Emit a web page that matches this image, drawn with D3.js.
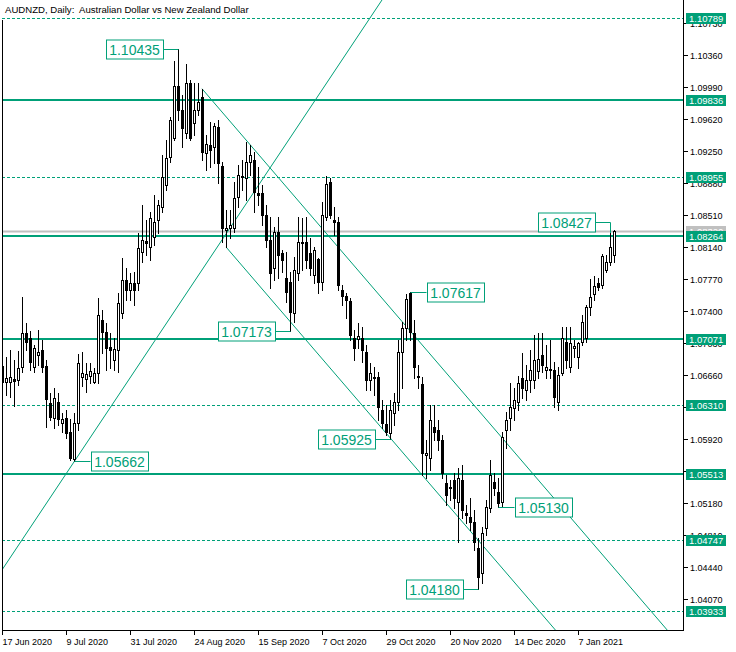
<!DOCTYPE html>
<html><head><meta charset="utf-8">
<script src="https://cdn.jsdelivr.net/npm/d3@7"></script>
<style>body{margin:0;background:#fff}svg{display:block}text{font-family:"Liberation Sans",Arial,sans-serif;white-space:pre}</style>
</head><body><svg id="c" width="736" height="652"></svg>
<script>
const opens=[1.0676,1.0658,1.0658,1.0661,1.0660,1.0675,1.0715,1.0709,1.0675,1.0689,1.0695,1.0676,1.0634,1.0616,1.0635,1.0610,1.0616,1.0600,1.0569,1.0610,
1.0664,1.0661,1.0665,1.0658,1.0668,1.0730,1.0716,1.0698,1.0683,1.0695,1.0738,1.0776,1.0764,1.0772,1.0772,1.0808,1.0821,1.0814,1.0826,1.0845,
1.0860,1.0886,1.0918,1.0940,1.1000,1.0972,1.0946,1.1004,1.0957,1.0972,1.0987,1.0923,1.0932,1.0930,1.0953,1.0908,1.0834,1.0836,1.0836,1.0872,
1.0895,1.0894,1.0912,1.0915,1.0876,1.0876,1.0851,1.0822,1.0790,1.0831,1.0807,1.0778,1.0774,1.0738,1.0784,1.0820,1.0820,1.0807,1.0782,1.0800,
1.0774,1.0849,1.0889,1.0845,1.0843,1.0764,1.0757,1.0751,1.0709,1.0708,1.0709,1.0693,1.0660,1.0664,1.0664,1.0626,1.0609,1.0599,1.0622,1.0635,
1.0693,1.0720,1.0761,1.0715,1.0665,1.0656,1.0574,1.0570,1.0606,1.0602,1.0591,1.0541,1.0535,1.0545,1.0519,1.0545,1.0506,1.0502,1.0496,1.0466,
1.0437,1.0489,1.0512,1.0542,1.0531,1.0519,1.0602,1.0616,1.0628,1.0635,1.0663,1.0649,1.0660,1.0660,1.0671,1.0689,1.0672,1.0672,1.0672,1.0635,
1.0668,1.0704,1.0675,1.0697,1.0687,1.0704,1.0709,1.0745,1.0760,1.0772,1.0770,1.0787,1.0797,1.0805];
const highs=[1.0686,1.0687,1.0695,1.0683,1.0694,1.0756,1.0726,1.0717,1.0701,1.0718,1.0707,1.0683,1.0645,1.0651,1.0645,1.0622,1.0626,1.0615,1.0622,1.0690,
1.0693,1.0680,1.0680,1.0674,1.0755,1.0741,1.0726,1.0715,1.0709,1.0761,1.0801,1.0790,1.0784,1.0785,1.0830,1.0863,1.0845,1.0855,1.0874,1.0868,
1.0920,1.0938,1.0964,1.1029,1.10435,1.0990,1.1026,1.1007,1.1004,1.1004,1.0997,1.0944,1.0959,1.0957,1.0961,1.0912,1.0857,1.0857,1.0889,1.0909,
1.0915,1.0935,1.0932,1.0924,1.0907,1.0886,1.0863,1.0849,1.0837,1.0849,1.0811,1.0808,1.0785,1.0802,1.0849,1.0848,1.0849,1.0824,1.0814,1.0801,
1.0866,1.0896,1.0894,1.0860,1.0849,1.0770,1.0761,1.0755,1.0718,1.0726,1.0722,1.0701,1.0680,1.0675,1.0669,1.0637,1.0631,1.0637,1.0645,1.0707,
1.0727,1.0760,1.07617,1.0730,1.0678,1.0664,1.0591,1.0631,1.0631,1.0614,1.0597,1.0550,1.0545,1.0553,1.0558,1.0562,1.0516,1.0524,1.0510,1.0478,
1.0490,1.0521,1.0568,1.0553,1.0547,1.0600,1.0623,1.0657,1.0651,1.0665,1.0691,1.0678,1.0695,1.0712,1.0715,1.0715,1.0701,1.0707,1.0681,1.0675,
1.0722,1.0722,1.0722,1.0707,1.0704,1.0735,1.0747,1.0777,1.0780,1.0778,1.0806,1.0805,1.0830,1.0834];
const lows=[1.0649,1.0643,1.0641,1.0630,1.0654,1.0669,1.0695,1.0672,1.0669,1.0678,1.0669,1.0606,1.0614,1.0605,1.0608,1.0600,1.0593,1.0568,1.05662,1.0602,
1.0653,1.0646,1.0657,1.0657,1.0657,1.0691,1.0672,1.0674,1.0672,1.0669,1.0732,1.0753,1.0753,1.0747,1.0764,1.0797,1.0805,1.0799,1.0816,1.0830,
1.0855,1.0880,1.0912,1.0938,1.0961,1.0930,1.0940,1.0938,1.0944,1.0967,1.0915,1.0903,1.0907,1.0911,1.0888,1.0820,1.0814,1.0824,1.0831,1.0860,
1.0880,1.0868,1.0897,1.0855,1.0863,1.0839,1.0814,1.0767,1.0776,1.0778,1.0785,1.0750,1.07173,1.0727,1.0776,1.0787,1.0790,1.0782,1.0772,1.0761,
1.0764,1.0845,1.0848,1.0828,1.0764,1.0747,1.0732,1.0707,1.0683,1.0697,1.0681,1.0649,1.0649,1.0643,1.0614,1.0605,1.0597,1.05925,1.0608,1.0626,
1.0651,1.0707,1.0707,1.0663,1.0651,1.0550,1.0547,1.0556,1.0591,1.0579,1.0547,1.0516,1.0521,1.0512,1.0473,1.0501,1.0495,1.0487,1.0464,1.04180,
1.0425,1.0481,1.0508,1.0527,1.0513,1.0514,1.0582,1.0602,1.0614,1.0626,1.0639,1.0637,1.0646,1.0651,1.0663,1.0669,1.0663,1.0663,1.0629,1.0626,
1.0666,1.0674,1.0669,1.0687,1.0674,1.0701,1.0704,1.0735,1.0753,1.0764,1.0767,1.0785,1.0793,1.0797];
const closes=[1.0658,1.0663,1.0664,1.0659,1.0674,1.0715,1.0704,1.0681,1.0697,1.0693,1.0675,1.0638,1.0617,1.0639,1.0615,1.0615,1.0599,1.0570,1.0610,1.0680,
1.0668,1.0667,1.0671,1.0668,1.0735,1.0716,1.0697,1.0695,1.0696,1.0749,1.0776,1.0764,1.0772,1.0764,1.0813,1.0822,1.0819,1.0848,1.0843,1.0863,
1.0895,1.0917,1.0961,1.1000,1.0972,1.0952,1.1004,1.0940,1.0972,1.0982,1.0924,1.0933,1.0926,1.0954,1.0911,1.0836,1.0836,1.0839,1.0871,1.0897,
1.0896,1.0912,1.0920,1.0878,1.0874,1.0851,1.0822,1.0784,1.0831,1.0805,1.0799,1.0762,1.0739,1.0787,1.0820,1.0819,1.0799,1.0790,1.0811,1.0774,
1.0851,1.0887,1.0851,1.0843,1.0770,1.0757,1.0753,1.0712,1.0697,1.0711,1.0695,1.0660,1.0668,1.0663,1.0629,1.0610,1.0600,1.0626,1.0635,1.0693,
1.0720,1.0754,1.0716,1.0675,1.0664,1.0576,1.0576,1.0614,1.0600,1.0591,1.0553,1.0527,1.0537,1.0524,1.0547,1.0510,1.0504,1.0496,1.0473,1.0432,
1.0483,1.0513,1.0550,1.0535,1.0518,1.0594,1.0614,1.0629,1.0637,1.0657,1.0651,1.0660,1.0672,1.0683,1.0684,1.0678,1.0675,1.0673,1.0641,1.0666,
1.0709,1.0683,1.0703,1.0700,1.0703,1.0727,1.0745,1.0756,1.0769,1.0768,1.0803,1.0797,1.0814,1.0832];

const dateTickBars=[0,16,32,48,64,80,96,112,128,144];
const dateTickLabels=["17 Jun 2020","9 Jul 2020","31 Jul 2020","24 Aug 2020","15 Sep 2020","7 Oct 2020","29 Oct 2020","20 Nov 2020","14 Dec 2020","7 Jan 2021"];
const priceTicks=[1.10730,1.10360,1.09990,1.09620,1.09250,1.08880,1.08510,1.08140,1.07770,1.07400,1.07030,1.06660,1.06290,1.05920,1.05550,1.05180,1.04810,1.04440,1.04070];
const solidLevels=[1.09836,1.08264,1.07071,1.05513];
const dashedLevels=[1.10789,1.08955,1.06310,1.04747,1.03933];
const lastPrice=1.08320;
// trend lines: [barA, priceA, barB, priceB]
const risingLine=[17,1.05585,94,1.10927];
const channelUpper=[50,1.0997,150,1.04588];
const channelLower=[56,1.0814,130,1.04160];
const markBars=[44,72,97,119,152,102,18,124];
const markPrices=[1.10435,1.07173,1.05925,1.04180,1.08427,1.07617,1.05662,1.05130];
const markTexts=["1.10435","1.07173","1.05925","1.04180","1.08427","1.07617","1.05662","1.05130"];

const TEAL="#00a078";
const PL=2,PR=683,PT=0,PB=630;
const svg=d3.select("#c");
const x=d3.scaleLinear().domain([0,170.25]).range([2,683]);
const y=d3.scaleLinear().domain([1.03711,1.10996]).range([630,0]);
const px=v=>Math.round(x(v))+0.5;
const py=v=>Math.round(y(v))+0.5;

svg.append("defs").append("clipPath").attr("id","plot").append("rect").attr("x",PL).attr("y",PT).attr("width",PR-PL).attr("height",PB-PT);
const g=svg.append("g").attr("clip-path","url(#plot)");

// horizontal levels
g.append("line").attr("x1",PL).attr("x2",PR).attr("y1",y(lastPrice)).attr("y2",y(lastPrice)).attr("stroke","#c0c0c0").attr("stroke-width",2);
solidLevels.forEach(v=>g.append("line").attr("x1",PL).attr("x2",PR).attr("y1",Math.round(y(v))).attr("y2",Math.round(y(v))).attr("stroke",TEAL).attr("stroke-width",2));
dashedLevels.forEach(v=>g.append("line").attr("x1",PL).attr("x2",PR).attr("y1",py(v)).attr("y2",py(v)).attr("stroke",TEAL).attr("stroke-width",1).attr("stroke-dasharray","3,2"));

// trend lines
function ray(l, fromStart){
  const [a,pa,b,pb]=l;
  const slope=(pb-pa)/(b-a);
  const i0=fromStart?a:-10, i1=260;
  g.append("line").attr("x1",x(i0)).attr("y1",y(pa+slope*(i0-a))).attr("x2",x(i1)).attr("y2",y(pa+slope*(i1-a)))
   .attr("stroke",TEAL).attr("stroke-width",1);
}
ray(risingLine,false);
ray(channelUpper,true);
ray(channelLower,true);

// candles
const bars=d3.range(opens.length);
const cg=g.append("g").attr("shape-rendering","crispEdges");
cg.selectAll("line.w").data(bars).join("line").attr("class","w")
  .attr("x1",i=>px(i)).attr("x2",i=>px(i)).attr("y1",i=>Math.round(y(highs[i]))).attr("y2",i=>Math.round(y(lows[i]))+1)
  .attr("stroke","#000").attr("stroke-width",1);
cg.selectAll("rect.b").data(bars).join("rect").attr("class","b")
  .attr("x",i=>px(i)-1).attr("width",2)
  .attr("y",i=>Math.round(y(Math.max(opens[i],closes[i])))+0.5)
  .attr("height",i=>Math.max(1,Math.round(y(Math.min(opens[i],closes[i])))-Math.round(y(Math.max(opens[i],closes[i])))))
  .attr("fill",i=>closes[i]>=opens[i]?"#fff":"#000").attr("stroke","#000").attr("stroke-width",1);

// annotation labels
const leftSide=new Set([44,72,97,119,152]);
const BW=57,BH=19,GAP=16;
markBars.forEach((b,k)=>{
  const bx=Math.round(x(b))+0.5, ly=Math.round(y(markPrices[k]))+0.5;
  const left=leftSide.has(b);
  const x0=left?bx-GAP-BW:bx+GAP;
  const edge=left?x0+BW:x0;
  if(b===152){
    svg.append("polyline").attr("points",`${edge},${ly} ${bx},${ly} ${bx},${Math.round(y(highs[b]))}`).attr("fill","none").attr("stroke",TEAL);
  } else {
    svg.append("line").attr("x1",edge).attr("x2",bx).attr("y1",ly).attr("y2",ly).attr("stroke",TEAL);
  }
  svg.append("rect").attr("x",Math.round(x0)+0.5).attr("y",Math.round(ly-BH/2)).attr("width",BW).attr("height",BH).attr("fill","#fff").attr("stroke",TEAL);
  svg.append("text").attr("x",x0+BW/2+0.5).attr("y",ly+5).attr("text-anchor","middle").attr("font-size",14).attr("fill",TEAL).text(markTexts[k]);
});

// axes
const ax=svg.append("g").attr("shape-rendering","crispEdges");
ax.append("line").attr("x1",PR+0.5).attr("x2",PR+0.5).attr("y1",0).attr("y2",PB+1).attr("stroke","#000");
ax.append("line").attr("x1",PL).attr("x2",PR+1).attr("y1",PB+0.5).attr("y2",PB+0.5).attr("stroke","#000");
ax.append("line").attr("x1",PL+0.5).attr("x2",PL+0.5).attr("y1",20).attr("y2",PB+1).attr("stroke","#000");
priceTicks.forEach(v=>{
  const yy=py(v);
  ax.append("line").attr("x1",PR).attr("x2",PR+5).attr("y1",yy).attr("y2",yy).attr("stroke","#000");
  svg.append("text").attr("x",690).attr("y",yy+3.3).attr("font-size",9).attr("fill","#000").text(v.toFixed(5));
});
dateTickBars.forEach((b,k)=>{
  const xx=px(b);
  ax.append("line").attr("x1",xx).attr("x2",xx).attr("y1",PB).attr("y2",PB+5).attr("stroke","#000");
  svg.append("text").attr("x",xx).attr("y",644.5).attr("font-size",9).attr("fill","#000").text(dateTickLabels[k]);
});

// axis price labels
function axisLabel(v,fill,txt){
  const yy=Math.round(y(v));
  svg.append("rect").attr("x",686).attr("y",yy-5).attr("width",40).attr("height",11).attr("fill",fill);
  svg.append("text").attr("x",689).attr("y",yy+4).attr("font-size",9.5).attr("fill","#fff").text(txt);
}
axisLabel(lastPrice,"#c0c0c0",lastPrice.toFixed(5));
solidLevels.concat(dashedLevels).forEach(v=>axisLabel(v,TEAL,v.toFixed(5)));

// title
svg.append("text").attr("x",5).attr("y",13).attr("font-size",9.6).attr("fill","#000").text("AUDNZD, Daily:  Australian Dollar vs New Zealand Dollar");
</script></body></html>
